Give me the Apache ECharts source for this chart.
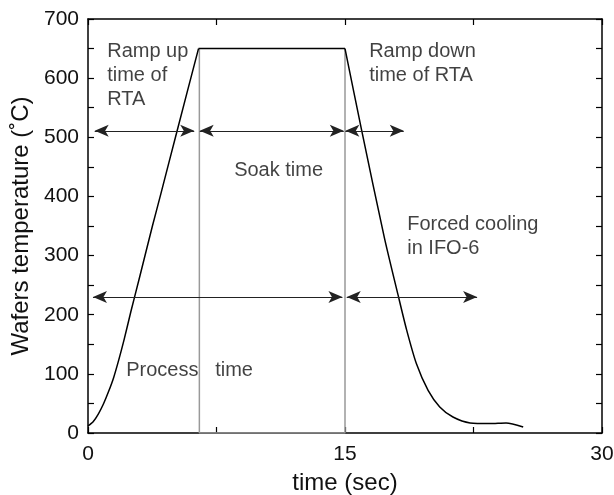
<!DOCTYPE html>
<html>
<head>
<meta charset="utf-8">
<script src="https://cdn.jsdelivr.net/npm/echarts@6/dist/echarts.min.js"></script>
<style>
  html, body { margin: 0; padding: 0; background: #fff; }
  #chart { width: 614px; height: 495px; }
</style>
</head>
<body>
<div id="chart"></div>
<script>
// wafer temperature profile (time in sec, temperature in C), in three parts
var rampUp = [
  [0, 12], [0.3, 19], [0.6, 32], [0.9, 49], [1.2, 70], [1.5, 94],
  [1.8, 124], [2.1, 157], [2.5, 205], [3.0, 262], [3.76, 350],
  [4.24, 403], [5.21, 512], [6.45, 650]
];
var soak = [[6.45, 650], [15, 650]];
var rampDown = [
  [15, 650], [15.97, 512], [17.3, 330], [18.1, 233], [18.6, 174],
  [19.17, 117], [19.85, 72], [20.53, 44], [21.3, 27], [22.3, 17],
  [23.45, 16], [24.4, 17], [25.4, 10]
];

// gray guide lines at end of ramp-up and start of ramp-down
var guides = [[6.5, 650], [6.5, 0], [15, 0], [15, 650]];

// double-headed arrows: [from, to, level]
var arrows = [
  [0.39, 6.2, 511],
  [6.52, 14.93, 511],
  [15.02, 18.43, 511],
  [0.29, 14.85, 230],
  [15.1, 22.71, 230]
];

// text notes: [x, y, text]
var notes = [
  [1.15, 665, 'Ramp up\ntime of\nRTA'],
  [16.44, 665, 'Ramp down\ntime of RTA'],
  [8.56, 463, 'Soak time'],
  [18.66, 372, 'Forced cooling\nin IFO-6'],
  [2.26, 125, 'Process   time']
];

var xTicks = [0, 15, 30];
var yTicks = [0, 100, 200, 300, 400, 500, 600, 700];

var font = '"Liberation Sans", Arial, Helvetica, sans-serif';
var myChart = echarts.init(document.getElementById('chart'));

var axisCommon = {
  axisLine: { show: true, onZero: false, lineStyle: { color: '#000', width: 1.5 } },
  axisTick: { show: true, inside: true, length: 6, lineStyle: { color: '#000', width: 1.2 } },
  splitLine: { show: false }
};

function curve(data) {
  return {
    type: 'line',
    data: data,
    symbol: 'none',
    silent: true,
    smooth: 0.25,
    lineStyle: { color: '#000', width: 1.5 },
    z: 3
  };
}

var option = {
  animation: false,
  backgroundColor: '#fff',
  grid: { left: 88, right: 12, top: 19, bottom: 62, outerBoundsMode: 'none', containLabel: false },
  xAxis: [
    Object.assign({
      type: 'value', min: 0, max: 30, interval: 7.5, position: 'bottom',
      name: 'time (sec)', nameLocation: 'middle', nameGap: 38,
      nameTextStyle: { fontFamily: font, fontSize: 24, color: '#111' },
      axisLabel: {
        show: true, margin: 11, fontFamily: font, fontSize: 21, color: '#111',
        showMinLabel: true, showMaxLabel: true,
        formatter: function (v) { return xTicks.indexOf(v) >= 0 ? String(v) : ''; }
      }
    }, axisCommon),
    Object.assign({
      type: 'value', min: 0, max: 30, interval: 7.5, position: 'top',
      axisLabel: { show: false }
    }, axisCommon)
  ],
  yAxis: [
    Object.assign({
      type: 'value', min: 0, max: 700, interval: 50, position: 'left',
      name: 'Wafers temperature (\u02DAC)', nameLocation: 'middle', nameGap: 53,
      nameTextStyle: { fontFamily: font, fontSize: 24, color: '#111' },
      axisLabel: {
        show: true, margin: 9, fontFamily: font, fontSize: 21, color: '#111',
        formatter: function (v) { return yTicks.indexOf(v) >= 0 ? String(v) : ''; }
      }
    }, axisCommon),
    Object.assign({
      type: 'value', min: 0, max: 700, interval: 50, position: 'right',
      axisLabel: { show: false }
    }, axisCommon)
  ],
  series: [
    {
      type: 'line',
      data: guides,
      symbol: 'none',
      silent: true,
      lineStyle: { color: '#999', width: 1.5 },
      z: 1,
      markLine: {
        silent: true,
        symbol: ['arrow', 'arrow'],
        symbolSize: [9, 14],
        label: { show: false },
        lineStyle: { color: '#222', width: 1.2, type: 'solid' },
        data: arrows.map(function (a) {
          return [{ coord: [a[0], a[2]] }, { coord: [a[1], a[2]] }];
        })
      }
    },
    curve(rampUp),
    curve(soak),
    curve(rampDown),
    {
      type: 'scatter',
      silent: true,
      symbolSize: 1,
      itemStyle: { color: 'rgba(0,0,0,0)' },
      data: notes.map(function (n) { return { value: [n[0], n[1]], name: n[2] }; }),
      label: {
        show: true,
        position: [0, 0],
        align: 'left',
        verticalAlign: 'top',
        fontFamily: font,
        fontSize: 20,
        lineHeight: 24,
        color: '#111',
        formatter: function (p) { return p.name; }
      },
      z: 4
    }
  ]
};

myChart.setOption(option);
</script>
</body>
</html>
